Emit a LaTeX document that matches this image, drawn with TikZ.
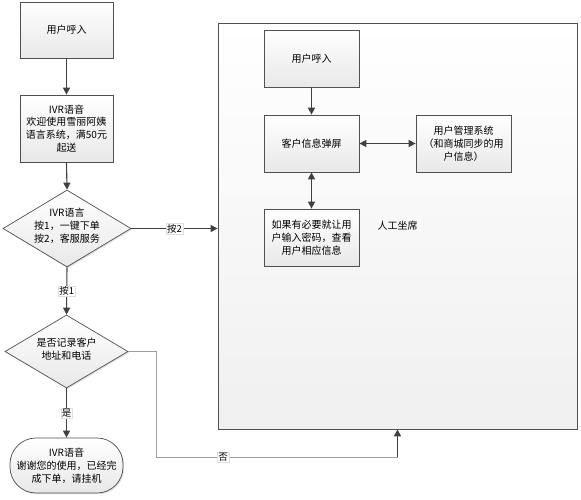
\documentclass[tikz,border=0pt]{standalone}
\usepackage{fontspec}
\setmainfont{Noto Sans CJK SC}
\usetikzlibrary{shapes.geometric,arrows.meta,shadows}
\definecolor{edge}{HTML}{505050}
\definecolor{arr}{HTML}{404040}
\begin{document}
\begin{tikzpicture}[x=1pt,y=-1pt,
  every node/.style={font=\fontsize{10}{12.8}\selectfont, text=black},
  box/.style={draw=edge, line width=0.7pt, top color=white, bottom color=gray!18,
    drop shadow={shadow xshift=1.2pt, shadow yshift=-1.2pt, opacity=0.25},
    align=center, inner sep=1pt},
  dia/.style={diamond, draw=edge, line width=0.7pt, top color=white, bottom color=gray!18,
    drop shadow={shadow xshift=1.2pt, shadow yshift=-1.2pt, opacity=0.25}, inner sep=0pt},
  txt/.style={align=center, inner sep=0pt},
  conn/.style={draw=arr, line width=1.1pt, -{Triangle[width=7pt,length=7pt]}},
  both/.style={draw=arr, line width=1.4pt, {Triangle[width=7pt,length=7pt]}-{Triangle[width=7pt,length=7pt]}},
  lab/.style={fill=white, draw=gray!25, line width=0.3pt, inner sep=0.8pt, font=\fontsize{9.5}{10}\selectfont}
]
\useasboundingbox (0,0) rectangle (581,500);

% big container
\node[draw=edge, line width=0.8pt, top color=white, bottom color=gray!12,
  drop shadow={shadow xshift=1.2pt, shadow yshift=-1.2pt, opacity=0.25},
  minimum width=359pt, minimum height=406pt] (big) at (397.5,226) {人工坐席};

% left column
\node[box, minimum width=93pt, minimum height=56pt] (n1) at (66.5,30) {用户呼入};
\node[box, minimum width=93pt, minimum height=67pt] (n2) at (66.5,128.5)
  {IVR语音\\欢迎使用雪丽阿姨\\语言系统，满50元\\起送};
\node[dia, minimum width=128pt, minimum height=77pt] (d1) at (67,228.5) {};
\node[txt] (d1t) at (67,226) {IVR语言\\按1，一键下单\\按2，客服服务};
\node[dia, minimum width=123pt, minimum height=73pt] (d2) at (66.5,351.5) {};
\node[txt] (d2t) at (66.5,349) {是否记录客户\\地址和电话};
\node[box, rounded corners=26pt, minimum width=113pt, minimum height=55pt] (term) at (66.5,465.5)
  {IVR语音\\谢谢您的使用，已经完\\成下单，请挂机};

% inner boxes
\node[box, minimum width=95pt, minimum height=57pt] (a1) at (311.5,58.5) {用户呼入};
\node[box, minimum width=95pt, minimum height=57pt] (a2) at (311.5,143.5) {客户信息弹屏};
\node[box, minimum width=95pt, minimum height=57pt] (a3) at (463.5,143.5)
  {用户管理系统\\（和商城同步的用\\户信息）};
\node[box, minimum width=95pt, minimum height=57pt] (a4) at (311.5,237.5)
  {如果有必要就让用\\户输入密码，查看\\用户相应信息};

% connectors
\draw[conn] (n1.south) -- (n2.north);
\draw[conn] (n2.south) -- (d1.north);
\draw[conn] (d1.east) -- node[lab, pos=0.5] (l2) {按2} (d1.east -| big.west);
\draw[conn] (d1.south) -- node[lab, pos=0.5] (l1) {按1} (d2.north);
\draw[conn] (d2.south) -- node[lab, pos=0.5] (ly) {是} (term.north);
\coordinate (k1) at (156,457);
\coordinate (k2) at (big.south |- k1);
\draw[draw=gray!75, line width=1pt] (d2.east) -| (k1) -- node[lab, pos=0.278] (ln) {否} (k2);
\draw[conn] (k2) -- (big.south);

\draw[conn] (a1.south) -- (a2.north);
\draw[both] (a2.east) -- (a3.west);
\draw[both] (a2.south) -- (a4.north);
\end{tikzpicture}
\end{document}
